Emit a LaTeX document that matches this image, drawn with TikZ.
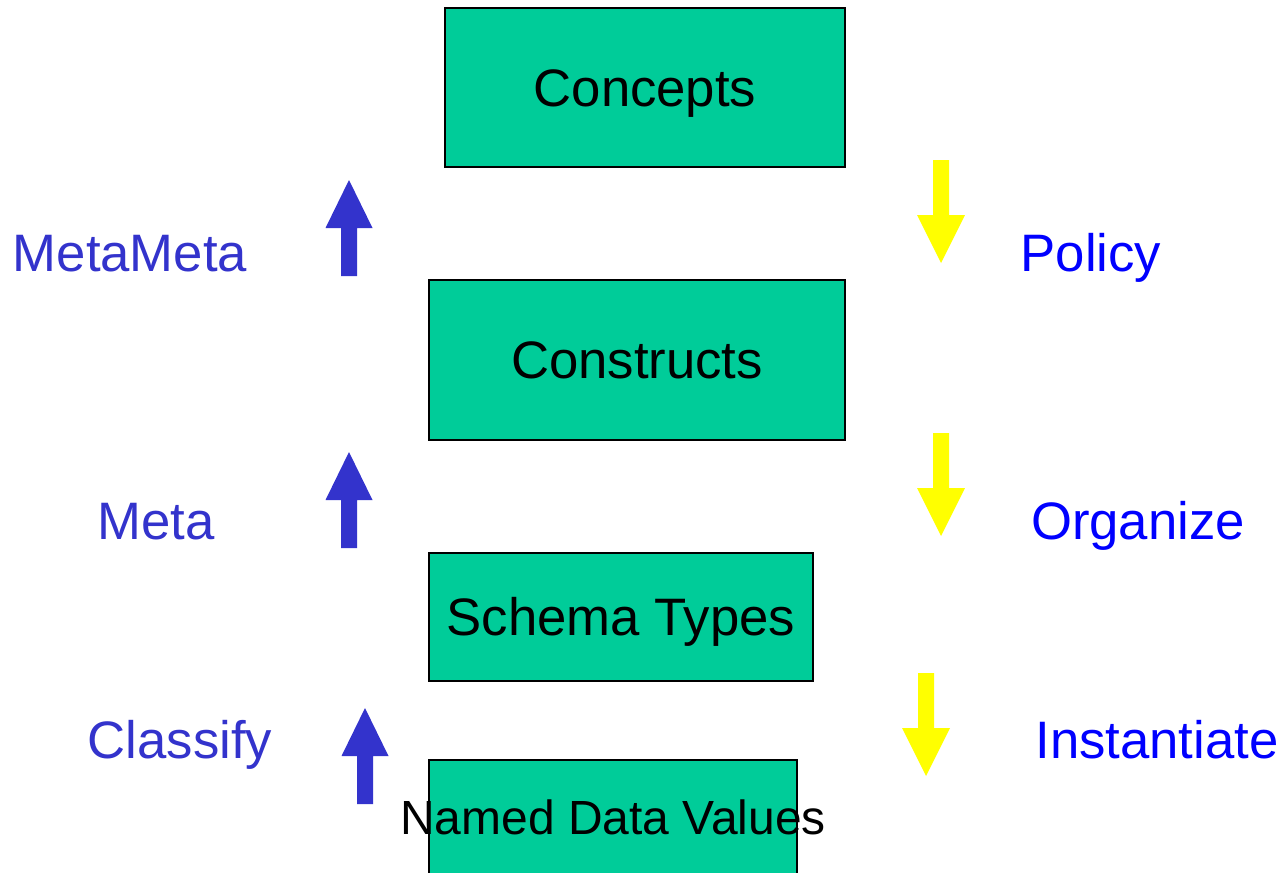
\documentclass[tikz,border=0pt]{standalone}
\usepackage{fontspec}
\setmainfont{Liberation Sans}
\usetikzlibrary{positioning}

\definecolor{boxgreen}{HTML}{00CC99}
\definecolor{upblue}{HTML}{3333CC}
\definecolor{downblue}{HTML}{0000FF}
\definecolor{downyellow}{HTML}{FFFF00}

\tikzset{
  capcentred/.style={text height=#1, text depth=0pt},
  capcentred/.default=21.5pt,
  level/.style={draw=black, fill=boxgreen, line width=0.7pt, inner sep=0pt, capcentred, font=\fontsize{30}{36}\selectfont},
  upword/.style={text=upblue, capcentred, font=\fontsize{30}{36}\selectfont},
  downword/.style={text=downblue, capcentred, font=\fontsize{30}{36}\selectfont},
  % block arrows, tip at the pic origin
  uparrow/.pic={\fill[upblue] (0,0) -- (23.5,48) -- (8,48) -- (8,96) -- (-8,96) -- (-8,48) -- (-23.5,48) -- cycle;},
  downarrow/.pic={\fill[downyellow] (0,0) -- (24,-48) -- (8,-48) -- (8,-103) -- (-8,-103) -- (-8,-48) -- (-24,-48) -- cycle;}
}

\begin{document}
\begin{tikzpicture}[x=0.02cm, y=-0.02cm]
  \useasboundingbox (0,0) rectangle (1287,872);
  % the four levels
  \node[level, minimum width=8cm, minimum height=3.18cm] (concepts) at (645,87.5) {Concepts};
  \node[level, minimum width=8.32cm, minimum height=3.2cm] (constructs) at (637,360) {Constructs};
  \node[level, minimum width=7.68cm, minimum height=2.56cm] (schema) at (621,617) {Schema Types};
  \draw[draw=black, fill=boxgreen, line width=0.7pt] (429,760) rectangle (797,880);
  \node[capcentred=19.5pt, font=\fontsize{27.3}{32}\selectfont, inner sep=0pt] (values) at (613,817) {Named Data Values};
  % upward arrows and their words
  \pic at (349,180) {uparrow};
  \pic at (349,452) {uparrow};
  \pic at (365,708) {uparrow};
  \node[upword] (metameta) at (130,253) {MetaMeta};
  \node[upword] (meta) at (156,521) {Meta};
  \node[upword] (classify) at (180,740) {Classify};
  % downward arrows and their words
  \pic at (941,263) {downarrow};
  \pic at (941,536) {downarrow};
  \pic at (926,776) {downarrow};
  \node[downword] (policy) at (1091,253) {Policy};
  \node[downword] (organize) at (1138,521) {Organize};
  \node[downword] (instantiate) at (1157,740) {Instantiate};
\end{tikzpicture}
\end{document}
